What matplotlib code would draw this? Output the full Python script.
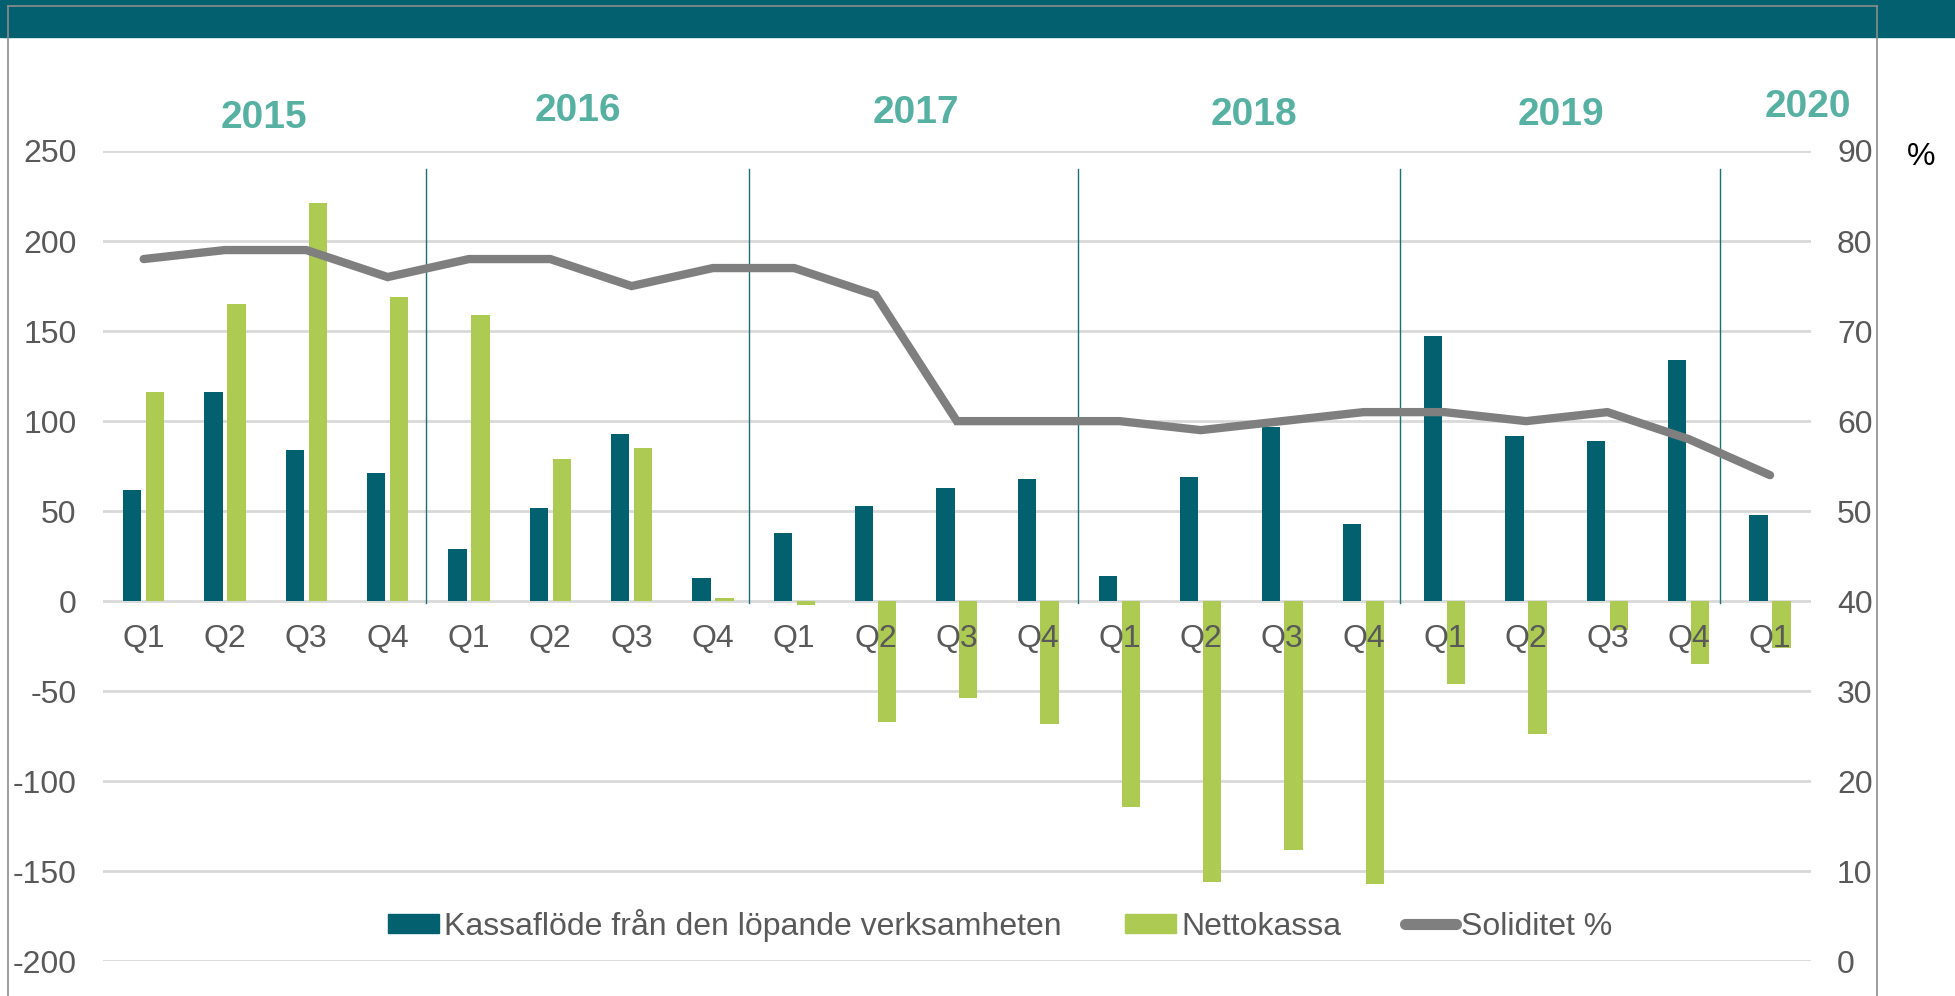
import matplotlib.pyplot as plt
import matplotlib.transforms as mtransforms
from matplotlib.patches import Rectangle
from matplotlib.lines import Line2D
import numpy as np

plt.rcParams['font.family'] = ['Liberation Sans', 'DejaVu Sans']
plt.rcParams['axes.unicode_minus'] = False

# Data
quarters = ['Q1', 'Q2', 'Q3', 'Q4'] * 5 + ['Q1']
years = ['2015', '2016', '2017', '2018', '2019', '2020']
kassaflode = [62, 116, 84, 71, 29, 52, 93, 13, 38, 53, 63, 68,
              14, 69, 97, 43, 147, 92, 89, 134, 48]
nettokassa = [116, 165, 221, 169, 159, 79, 85, 2, -2, -67, -54, -68,
              -114, -156, -138, -157, -46, -74, -16, -35, -26]
soliditet = [78, 79, 79, 76, 78, 78, 75, 77, 77, 74, 60, 60,
             60, 59, 60, 61, 61, 60, 61, 58, 54]

c_dark = '#03616F'
c_green = '#ADCB53'
c_line = '#7F7F7F'
c_year = '#56B1A3'
c_tick = '#595959'
c_grid = '#D9D9D9'
fs = 23

fig = plt.figure(figsize=(19.56, 9.96), dpi=100)
ax = fig.add_axes([103 / 1956, 1 - 961.4 / 996, (1810.7 - 103) / 1956, (961.4 - 151) / 996])

x = np.arange(len(quarters))
w = 0.225
ax.bar(x - 0.141, kassaflode, width=w, color=c_dark, zorder=2,
       label='Kassaflöde från den löpande verksamheten')
ax.bar(x + 0.141, nettokassa, width=w, color=c_green, zorder=2, label='Nettokassa')

ax.set_xlim(-0.5, len(quarters) - 0.5)
ax.set_ylim(-200, 250)
ax.set_yticks(np.arange(-200, 251, 50))
ax.yaxis.grid(True, color=c_grid, linewidth=2)
ax.set_axisbelow(True)
ax.set_xticks([])
for s in ax.spines.values():
    s.set_visible(False)
ax.tick_params(axis='y', length=0, pad=19, labelsize=fs, labelcolor=c_tick)

# quarter labels just under the zero line
for i, q in enumerate(quarters):
    ax.text(i, -21, q, ha='center', va='center', fontsize=fs, color=c_tick, zorder=4)

# year separators
for xs in [3.47, 7.44, 11.49, 15.45, 19.38]:
    ax.plot([xs, xs], [-1, 240], color='#1B6F7A', linewidth=1, zorder=3)

ax2 = ax.twinx()
ax2.plot(x, soliditet, color=c_line, linewidth=6, solid_capstyle='round',
         solid_joinstyle='miter', zorder=5, label='Soliditet %')
ax2.set_ylim(0, 90)
ax2.set_yticks(np.arange(0, 91, 10))
for s in ax2.spines.values():
    s.set_visible(False)
ax2.tick_params(axis='y', length=0, pad=19, labelsize=fs, labelcolor=c_tick)
fig.text(1921 / 1956, 1 - 157 / 996, '%', fontsize=fs, color='black', ha='center', va='center')

# year headings
trans = mtransforms.blended_transform_factory(ax.transData, fig.transFigure)
year_x = [1.48, 5.34, 9.5, 13.65, 17.43, 20.46]
year_y = [118, 111, 113, 115, 115, 107]
for yr, xx, yy in zip(years, year_x, year_y):
    ax.text(xx, 1 - yy / 996, yr, transform=trans, ha='center', va='center',
            fontsize=28, fontweight='bold', color=c_year)

# legend
handles = [Rectangle((0, 0), 1, 1, color=c_dark), Rectangle((0, 0), 1, 1, color=c_green),
           Line2D([], [], color=c_line, linewidth=8, solid_capstyle='round')]
labels = ['Kassaflöde från den löpande verksamheten', 'Nettokassa', 'Soliditet %']
leg = ax2.legend(handles, labels, loc='center', bbox_to_anchor=(1000 / 1956, 1 - 925 / 996),
                 bbox_transform=fig.transFigure, ncol=3, frameon=False, fontsize=fs,
                 handlelength=1.6, handleheight=0.55, handletextpad=0.15, columnspacing=2.0,
                 labelcolor=c_tick)

# header banner and frame
fig.patches.append(Rectangle((0, 1 - 37 / 996), 1, 37 / 996, transform=fig.transFigure,
                             color=c_dark, zorder=0))
fig.lines.append(Line2D([8 / 1956, 8 / 1956], [0, 1 - 6 / 996], transform=fig.transFigure,
                        color='#8C8C8C', linewidth=1.2))
fig.lines.append(Line2D([8 / 1956, 1877 / 1956], [1 - 6 / 996, 1 - 6 / 996],
                        transform=fig.transFigure, color='#8C8C8C', linewidth=1.2))
fig.lines.append(Line2D([1877 / 1956, 1877 / 1956], [0, 1 - 6 / 996], transform=fig.transFigure,
                        color='#8C8C8C', linewidth=1.2))

fig.savefig('out.png', dpi=100)
